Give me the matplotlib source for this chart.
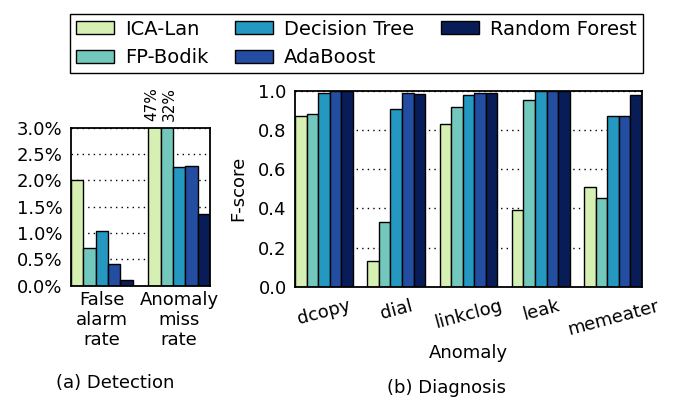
import numpy as np
import matplotlib
matplotlib.use("Agg")
import matplotlib.pyplot as plt

methods = ["ICA-Lan", "FP-Bodik", "Decision Tree", "AdaBoost", "Random Forest"]
colors = ["#d6efb3", "#73c8bd", "#2498c1", "#234da0", "#081d58"]

# (a) detection, percent
det_labels = ["False\nalarm\nrate", "Anomaly\nmiss\nrate"]
det_false_alarm = [2.0, 0.72, 1.04, 0.42, 0.10]
det_miss = [47.0, 32.0, 2.26, 2.28, 1.37]

# (b) diagnosis, F-score
anomalies = ["dcopy", "dial", "linkclog", "leak", "memeater"]
f_ica = [0.869, 0.134, 0.832, 0.394, 0.509]
f_fp = [0.879, 0.329, 0.918, 0.954, 0.453]
f_dt = [0.990, 0.905, 0.976, 1.0, 0.873]
f_ada = [1.0, 0.990, 0.986, 1.0, 0.873]
f_rf = [1.0, 0.983, 0.986, 1.0, 0.976]

plt.rcParams["font.family"] = "DejaVu Sans"
plt.rcParams["font.size"] = 13

fig = plt.figure(figsize=(6.73, 4.09), dpi=100)
ax1 = fig.add_axes([0.1055, 0.3015, 0.2065, 0.3863])
ax2 = fig.add_axes([0.4383, 0.2983, 0.5156, 0.4800])

width = 0.16
offsets = (np.arange(5) - 2) * width

# detection panel
det = np.array([det_false_alarm, det_miss]).T
x1 = np.arange(len(det_labels))
for i, m in enumerate(methods):
    ax1.bar(x1 + offsets[i], det[i], width, color=colors[i],
            edgecolor="black", linewidth=1, label=m, zorder=2)
ax1.set_ylim(0, 3.0)
ax1.set_xlim(-0.4, 1.4)
ax1.set_yticks(np.arange(0, 3.01, 0.5))
ax1.set_yticklabels(["%.1f%%" % v for v in np.arange(0, 3.01, 0.5)])
ax1.set_xticks(x1)
ax1.set_xticklabels(det_labels, linespacing=1.15)
# clipped bars get their value written above the frame
nudge = [-2.0, 2.0]
for i in range(2):
    v = det_miss[i]
    if v > 3.0:
        ax1.annotate("%d%%" % v, xy=(1 + offsets[i], 3.0), xytext=(nudge[i], 5),
                     textcoords="offset points", rotation=90,
                     ha="center", va="bottom", fontsize=11)
fig.text(0.171, 0.0636, "(a) Detection", ha="center", va="center")

# diagnosis panel
fs = [f_ica, f_fp, f_dt, f_ada, f_rf]
x2 = np.arange(len(anomalies))
for i in range(5):
    ax2.bar(x2 + offsets[i], fs[i], width, color=colors[i],
            edgecolor="black", linewidth=1, zorder=2)
ax2.set_ylim(0, 1.0)
ax2.set_xlim(-0.4, 4.4)
ax2.set_yticks(np.arange(0, 1.01, 0.2))
ax2.set_yticklabels(["%.1f" % v for v in np.arange(0, 1.01, 0.2)])
ax2.set_xticks(x2)
ax2.set_xticklabels(anomalies, rotation=15, ha="center")
ax2.set_ylabel("F-score", labelpad=8)
ax2.set_xlabel("Anomaly", labelpad=4)
fig.text(0.664, 0.051, "(b) Diagnosis", ha="center", va="center")

for ax in (ax1, ax2):
    ax.yaxis.grid(True, linestyle=(0, (1, 3)), color="black", linewidth=1, zorder=1)
    ax.set_axisbelow(True)
    ax.tick_params(length=0)
    ax.tick_params(axis="y", pad=6)
    ax.tick_params(axis="x", pad=4)
    for s in ax.spines.values():
        s.set_linewidth(1.3)
        s.set_zorder(3)
ax2.tick_params(axis="x", pad=7)

fig.legend(loc="upper center", bbox_to_anchor=(0.5297, 0.99), ncol=3,
           fontsize=14, fancybox=False, edgecolor="black", framealpha=1,
           handlelength=1.95, handleheight=0.65, columnspacing=1.4,
           handletextpad=0.55, borderpad=0.3, labelspacing=0.48)

fig.savefig("out.png", dpi=100)
